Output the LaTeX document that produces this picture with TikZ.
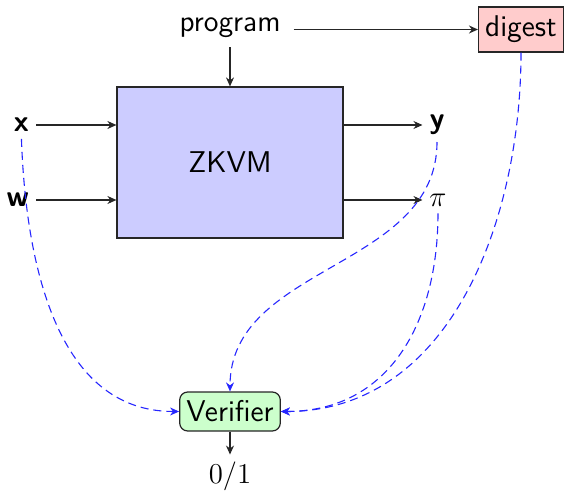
\documentclass[tikz,border=0pt]{standalone}
\usetikzlibrary{arrows.meta}
\begin{document}
\begin{tikzpicture}[x=0.5pt,y=-0.5pt,
  font=\sffamily\fontsize{15}{18}\selectfont,
  every node/.style={inner sep=3.33pt},
  arr/.style={-{Stealth[length=4.5pt,width=4pt]}, line width=0.55pt, draw=black!85},
  darr/.style={-{Stealth[length=4.5pt,width=4pt]}, dashed, line width=0.55pt, draw=blue!85, dash pattern=on 4pt off 2.5pt},
  box/.style={draw=black!85, line width=0.6pt}]
\useasboundingbox (0,0) rectangle (568,492);
\node (prog) at (230,28) {program};
\node[box, fill=red!20, minimum height=22.5pt] (dig) at (521,29.5) {digest};
\node[box, fill=blue!20, minimum width=113pt, minimum height=75.5pt] (zk) at (230,162.5) {ZKVM};
\node[anchor=east] (x) at (36,125) {\textbf{x}};
\node[anchor=east] (w) at (36,200) {\textbf{w}};
\node (y) at (437,125) {\textbf{y}};
\node (pi) at (438,200) {$\pi$};
\node[box, fill=green!20, rounded corners=4pt, minimum height=19.5pt] (ver) at (230,411.5) {Verifier};
\node (out) at (230,476) {$0/1$};

\draw[arr, shorten <=1pt] (prog) -- (zk.north);
\draw[arr, shorten <=3pt] (prog.east |- dig.west) -- (dig.west);
\draw[arr] (x.east) -- (zk.west |- x.east);
\draw[arr] (w.east) -- (zk.west |- w.east);
\draw[arr] (zk.east |- y.west) -- (y.west);
\draw[arr] (zk.east |- pi.west) -- (pi.west);
\draw[arr] (ver.south) -- (out.north);

\draw[darr] (x.south) to[out=-88,in=180] (ver.west);
\draw[darr] (y.south) to[out=-90,in=90] (ver.north);
\draw[darr] (pi.south) to[out=-90,in=0,looseness=1.1] (ver.east);
\draw[darr] (dig.south) to[out=-90,in=0] (ver.east);
\end{tikzpicture}
\end{document}
